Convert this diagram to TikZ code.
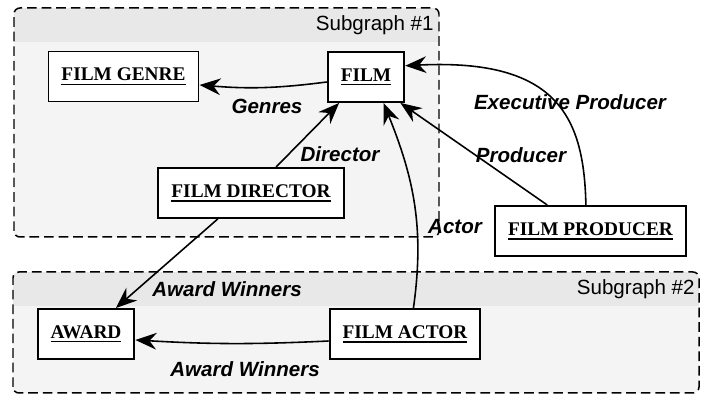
\documentclass[tikz,border=0pt]{standalone}
\usepackage{fontspec}
\setmainfont{Liberation Serif}
\setsansfont{Liberation Sans}
\usetikzlibrary{arrows.meta}
\definecolor{SGHead}{HTML}{E8E8E8}
\definecolor{SGBody}{HTML}{F4F4F4}
\newcommand{\entname}[1]{\setbox0\hbox{#1}\rlap{\rule[-2.4pt]{\wd0}{0.85pt}}\box0}

\begin{document}
\begin{tikzpicture}[x=1cm,y=1cm,
  ent/.style={draw,fill=white,line width=1.1pt,minimum height=1cm,inner xsep=0.26cm,font=\fontsize{11}{13}\selectfont\bfseries},
  rel/.style={line width=0.9pt,-{Stealth[length=12pt,width=9.5pt,inset=4pt]}},
  lbl/.style={font=\fontsize{11.7}{14}\selectfont\sffamily\bfseries\itshape,inner sep=0pt},
  grptitle/.style={font=\fontsize{11.7}{14}\selectfont\sffamily,anchor=east,inner sep=0pt},
  grpline/.style={dash pattern=on 5.5pt off 2.8pt,line width=0.85pt,rounded corners=0.12cm}]
\path[use as bounding box] (0,0) rectangle (14.02,7.94);
% subgraph #1
\fill[SGBody,rounded corners=0.12cm] (0.28,3.20) rectangle (8.78,7.78);
\begin{scope}
\clip[rounded corners=0.12cm] (0.28,3.20) rectangle (8.78,7.78);
\fill[SGHead] (0.28,7.10) rectangle (8.78,7.78);
\end{scope}
\draw[grpline] (0.28,3.20) rectangle (8.78,7.78);
\node[grptitle] (sgone) at (8.68,7.44) {Subgraph \#1};
% subgraph #2
\fill[SGBody,rounded corners=0.12cm] (0.26,0.08) rectangle (13.98,2.50);
\begin{scope}
\clip[rounded corners=0.12cm] (0.26,0.08) rectangle (13.98,2.50);
\fill[SGHead] (0.26,1.82) rectangle (13.98,2.50);
\end{scope}
\draw[grpline] (0.26,0.08) rectangle (13.98,2.50);
\node[grptitle] (sgtwo) at (13.90,2.16) {Subgraph \#2};
% entities
\node[ent] (genre) at (2.47,6.41) {\entname{FILM GENRE}};
\node[ent] (film) at (7.32,6.40) {\entname{FILM}};
\node[ent] (director) at (5.02,4.08) {\entname{FILM DIRECTOR}};
\node[ent] (producer) at (11.81,3.32) {\entname{FILM PRODUCER}};
\node[ent] (award) at (1.72,1.26) {\entname{AWARD}};
\node[ent] (actor) at (8.10,1.26) {\entname{FILM ACTOR}};
% relations
\draw[rel] ([yshift=-0.10cm]film.west) to[bend left=6] ([yshift=-0.17cm]genre.east);
\draw[rel] (director.46) -- (film.-136);
\draw[rel] (director.-142) -- (award.41);
\draw[rel] ([yshift=-0.14cm]actor.west) to[bend left=3] ([yshift=-0.12cm]award.east);
\draw[rel] (actor.72) to[out=82,in=-68] (film.-56);
\draw[rel] (producer.149) -- (film.-37);
\draw[rel] (producer.100) .. controls (11.68,5.54) and (11.20,6.78) .. (film.16);
\node[lbl] (lgenres) at (5.34,5.82) {Genres};
\node[lbl] (ldirector) at (6.80,4.86) {Director};
\node[lbl] (lawardup) at (4.54,2.16) {Award Winners};
\node[lbl] (lawardlow) at (4.90,0.56) {Award Winners};
\node[lbl] (lactor) at (9.10,3.40) {Actor};
\node[lbl] (lproducer) at (10.42,4.84) {Producer};
\node[lbl] (lexec) at (11.40,5.90) {Executive Producer};
\end{tikzpicture}
\end{document}
